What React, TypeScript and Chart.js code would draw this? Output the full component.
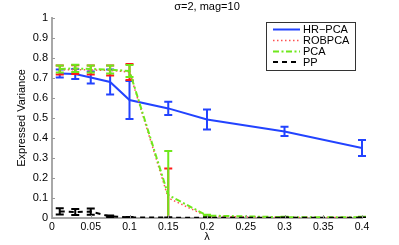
import React, { useEffect, useRef } from "react";
import { Chart, registerables } from "chart.js";
Chart.register(...registerables);

const titleText = "σ=2, mag=10";
const xTitle = "λ";
const yTitle = "Expressed Variance";
const legendLabels = ["HR−PCA", "ROBPCA", "PCA", "PP"];

const lambdas = [0.01, 0.03, 0.05, 0.075, 0.1, 0.15, 0.2, 0.3, 0.4];
const hrpca = [0.722, 0.72, 0.703, 0.68, 0.59, 0.548, 0.493, 0.433, 0.35];
const hrpcaErr = [0.02, 0.025, 0.03, 0.063, 0.095, 0.033, 0.05, 0.023, 0.04];
const robpca = [0.74, 0.742, 0.74, 0.738, 0.73, 0.1, 0.008, 0.003, 0.003];
const robpcaErr = [0.022, 0.022, 0.022, 0.025, 0.04, 0.148, 0.003, 0.002, 0.002];
const pca = [0.745, 0.748, 0.745, 0.742, 0.735, 0.115, 0.012, 0.004, 0.004];
const pcaErr = [0.018, 0.018, 0.018, 0.02, 0.03, 0.22, 0.004, 0.002, 0.002];
const pp = [0.033, 0.03, 0.032, 0.008, 0.003, 0.002, 0.001, 0.001, 0.001];
const ppErr = [0.016, 0.015, 0.016, 0.004, 0.002, 0.001, 0.001, 0.001, 0.001];

const xTicks = [0, 0.05, 0.1, 0.15, 0.2, 0.25, 0.3, 0.35, 0.4];
const yTicks = [0, 0.1, 0.2, 0.3, 0.4, 0.5, 0.6, 0.7, 0.8, 0.9, 1];

const FONT = "'Liberation Sans', Arial, Helvetica, sans-serif";
const errs = [hrpcaErr, robpcaErr, pcaErr, ppErr];
const vals = [hrpca, robpca, pca, pp];

const fmt = (v: number) => String(Number(v.toFixed(2)));

const decorPlugin = {
  id: "decor",
  afterDatasetDraw(chart: any, args: any) {
    const i = args.index;
    const ds = chart.data.datasets[i];
    const xs = chart.scales.x;
    const ys = chart.scales.y;
    const ca = chart.chartArea;
    const ctx = chart.ctx;
    ctx.save();
    ctx.beginPath();
    ctx.rect(ca.left, ca.top - 2, ca.right - ca.left + 6, ca.bottom - ca.top + 2);
    ctx.clip();
    ctx.setLineDash([]);
    ctx.strokeStyle = ds.errColor || ds.borderColor;
    ctx.lineWidth = ds.errWidth || 2;
    ctx.lineCap = "butt";
    const v = vals[i];
    const e = errs[i];
    for (let k = 0; k < lambdas.length; k++) {
      const x = xs.getPixelForValue(lambdas[k]);
      const y1 = ys.getPixelForValue(v[k] + e[k]);
      const y2 = ys.getPixelForValue(v[k] - e[k]);
      ctx.beginPath();
      ctx.moveTo(x, y1);
      ctx.lineTo(x, y2);
      ctx.moveTo(x - 4, y1);
      ctx.lineTo(x + 4, y1);
      ctx.moveTo(x - 4, y2);
      ctx.lineTo(x + 4, y2);
      ctx.stroke();
    }
    ctx.restore();
  },
  afterDraw(chart: any) {
    const ctx = chart.ctx;
    const ca = chart.chartArea;
    const xs = chart.scales.x;
    const ys = chart.scales.y;
    ctx.save();
    ctx.strokeStyle = "#9a9a9a";
    ctx.lineWidth = 1;
    ctx.setLineDash([]);
    ctx.beginPath();
    for (const t of xTicks) {
      const x = Math.round(xs.getPixelForValue(t)) + 0.5;
      ctx.moveTo(x, ca.bottom);
      ctx.lineTo(x, ca.bottom - 3);
    }
    for (const t of yTicks) {
      const y = Math.round(ys.getPixelForValue(t)) + 0.5;
      ctx.moveTo(ca.left, y);
      ctx.lineTo(ca.left + 3, y);
    }
    ctx.stroke();
    ctx.fillStyle = "#000";
    ctx.font = `11px ${FONT}`;
    ctx.textAlign = "center";
    ctx.textBaseline = "middle";
    ctx.fillText(titleText, (ca.left + ca.right) / 2, 7);
    const bx = 266.5, by = 22.5, bw = 89, bh = 48;
    ctx.fillStyle = "#fff";
    ctx.fillRect(bx, by, bw, bh);
    ctx.strokeStyle = "#333";
    ctx.lineWidth = 1;
    ctx.strokeRect(bx, by, bw, bh);
    const rows = [29.5, 40.5, 51.5, 62];
    chart.data.datasets.forEach((ds: any, i: number) => {
      const y = rows[i];
      ctx.save();
      ctx.strokeStyle = ds.borderColor;
      ctx.lineWidth = ds.borderWidth;
      ctx.setLineDash(ds.borderDash || []);
      ctx.beginPath();
      ctx.moveTo(273, y);
      ctx.lineTo(300, y);
      ctx.stroke();
      ctx.restore();
      ctx.fillStyle = "#000";
      ctx.font = `11px ${FONT}`;
      ctx.textAlign = "left";
      ctx.textBaseline = "middle";
      ctx.fillText(legendLabels[i], 303, y + 0.5);
    });
    ctx.restore();
  },
};

export default function App() {
  const ref = useRef<HTMLCanvasElement | null>(null);
  useEffect(() => {
    if (!ref.current) return;
    const mk = (arr: number[]) => arr.map((y, k) => ({ x: lambdas[k], y }));
    const chart = new Chart(ref.current, {
      type: "line",
      data: {
        datasets: [
          { label: legendLabels[0], data: mk(hrpca), borderColor: "#2243ff", borderWidth: 2, pointRadius: 0, order: 4, errColor: "#2243ff" } as any,
          { label: legendLabels[1], data: mk(robpca), borderColor: "#ff5050", borderWidth: 1.5, borderDash: [1.5, 2.5], pointRadius: 0, order: 3, errColor: "#ff1a1a" } as any,
          { label: legendLabels[2], data: mk(pca), borderColor: "#6fe81c", borderWidth: 2, borderDash: [6, 2.5, 2, 2.5], pointRadius: 0, order: 2, errColor: "#6fe81c" } as any,
          { label: legendLabels[3], data: mk(pp), borderColor: "#000", borderWidth: 2, borderDash: [5, 4], pointRadius: 0, order: 1, errColor: "#000" } as any,
        ],
      },
      options: {
        animation: false,
        responsive: false,
        devicePixelRatio: 1,
        layout: { padding: { left: 0, top: 18, right: 37, bottom: 0 } },
        plugins: { legend: { display: false }, tooltip: { enabled: false }, title: { display: false } },
        scales: {
          x: {
            type: "linear",
            min: 0,
            max: 0.4,
            afterBuildTicks: (s: any) => { s.ticks = xTicks.map((value) => ({ value })); },
            afterFit: (s: any) => { s.height = 27; },
            ticks: { callback: (v: any) => fmt(Number(v)), font: { size: 10.5, family: FONT }, color: "#000", padding: 3, maxRotation: 0, autoSkip: false },
            grid: { display: false, drawTicks: false },
            border: { display: true, color: "#a8a8a8", width: 2 },
            title: { display: true, text: xTitle, font: { size: 11, family: FONT }, color: "#000", padding: { top: 0, bottom: 1.5 } },
          },
          y: {
            type: "linear",
            min: 0,
            max: 1,
            afterBuildTicks: (s: any) => { s.ticks = yTicks.map((value) => ({ value })); },
            afterFit: (s: any) => { s.width = 52; },
            ticks: { callback: (v: any) => fmt(Number(v)), font: { size: 11, family: FONT }, color: "#000", padding: 4, autoSkip: false },
            grid: { display: false, drawTicks: false },
            border: { display: true, color: "#a8a8a8", width: 2 },
            title: { display: true, text: yTitle, font: { size: 11, family: FONT }, color: "#000", padding: { top: 15, bottom: 0 } },
          },
        },
      },
      plugins: [decorPlugin],
    });
    return () => chart.destroy();
  }, []);
  return (
    <div style={{ position: "absolute", left: 0, top: 0, width: 399, height: 245, background: "#fff" }}>
      <canvas ref={ref} width={399} height={245} style={{ width: 399, height: 245, display: "block" }} />
    </div>
  );
}
